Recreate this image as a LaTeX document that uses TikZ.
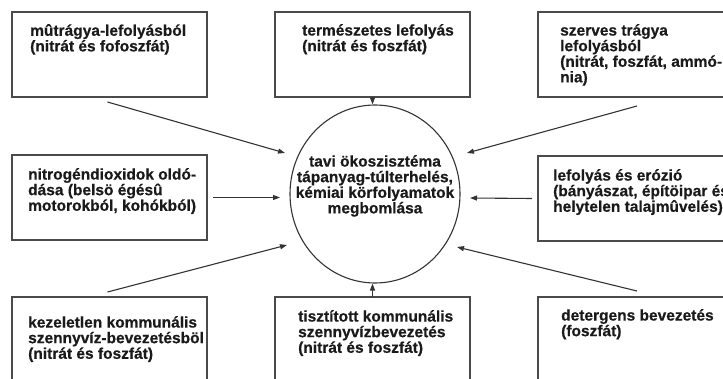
\documentclass[tikz,border=0pt]{standalone}
\usepackage{fontspec}
\setmainfont[BoldFeatures={FakeBold=0.5}]{Liberation Sans}
\usetikzlibrary{shapes.geometric,arrows.meta,calc}
\definecolor{linec}{HTML}{333333}
\definecolor{boxc}{HTML}{4A4A4A}
\definecolor{txt}{HTML}{1A1A1A}
\begin{document}
\begin{tikzpicture}[x=1pt,y=-1pt,
  box/.style={draw=boxc, line width=1.3pt, minimum width=195pt, minimum height=85pt, inner sep=0pt, outer sep=0pt, anchor=north west},
  lbl/.style={font=\fontsize{15.5}{15.6}\selectfont\bfseries, text=txt, align=left, inner sep=0pt, anchor=north west},
  arr/.style={draw=linec, line width=1.1pt, -{Triangle[length=7pt,width=5pt]}}
]
\useasboundingbox (0,0) rectangle (723,379);
\clip (0,0) rectangle (723,379);
% boxes
\node[box] (b1) at (12,12) {};
\node[box] (b2) at (275,12) {};
\node[box] (b3) at (538,12) {};
\node[box] (b4) at (12,155) {};
\node[box] (b5) at (538,156) {};
\node[box] (b7) at (12,297) {};
\node[box] (b8) at (275,297) {};
\node[box] (b9) at (538,297) {};
% texts
\node[lbl] (t1) at (30,24) {mûtrágya-lefolyásból\\(nitrát és fofoszfát)};
\node[lbl] (t2) at (302,24) {természetes lefolyás\\(nitrát és foszfát)};
\node[lbl] (t3) at (560,24) {szerves trágya\\lefolyásból\\(nitrát, foszfát, ammó-\\nia)};
\node[lbl] (t4) at (28,168) {nitrogéndioxidok oldó-\\dása (belsö égésû\\motorokból, kohókból)};
\node[lbl] (t5) at (553,169) {lefolyás és erózió\\(bányászat, építöipar és\\helytelen talajmûvelés)};
\node[lbl] (t7) at (28,316) {kezeletlen kommunális\\szennyvíz-bevezetésböl\\(nitrát és foszfát)};
\node[lbl] (t8) at (298,310) {tisztított kommunális\\szennyvízbevezetés\\(nitrát és foszfát)};
\node[lbl] (t9) at (561,309) {detergens bevezetés\\(foszfát)};
% centre
\node[ellipse, draw=linec, line width=1.1pt, minimum width=170pt, minimum height=178pt, inner sep=0pt] (c) at (375,194) {};
\node[lbl, align=center, anchor=north] (ct) at (375,155) {tavi ökoszisztéma\\tápanyag-túlterhelés,\\kémiai körfolyamatok\\megbomlása};
% arrow tips
\coordinate (p1) at (285,153);
\coordinate (p3) at (467,153);
\coordinate (p4) at (280,197.5);
\coordinate (p5) at (470,198);
\coordinate (p7) at (287,245);
\coordinate (p9) at (457,247);
% connectors
\draw[arr] ($(b1.south)+(-2,5)$) -- (p1);
\draw[arr] (b2.south) -- (b2.south |- c.north);
\draw[arr] ($(b3.south)+(1.5,9)$) -- (p3);
\draw[arr] ($(b4.east)+(6,0)$) -- (p4);
\draw[arr] ($(b5.west)+(-6,0)$) -- (p5);
\draw[arr] ($(b7.north)+(-2,-5)$) -- (p7);
\draw[arr] (b8.north) -- (b8.north |- c.south);
\draw[arr] ($(b9.north)+(1.5,-6)$) -- (p9);
\end{tikzpicture}
\end{document}
